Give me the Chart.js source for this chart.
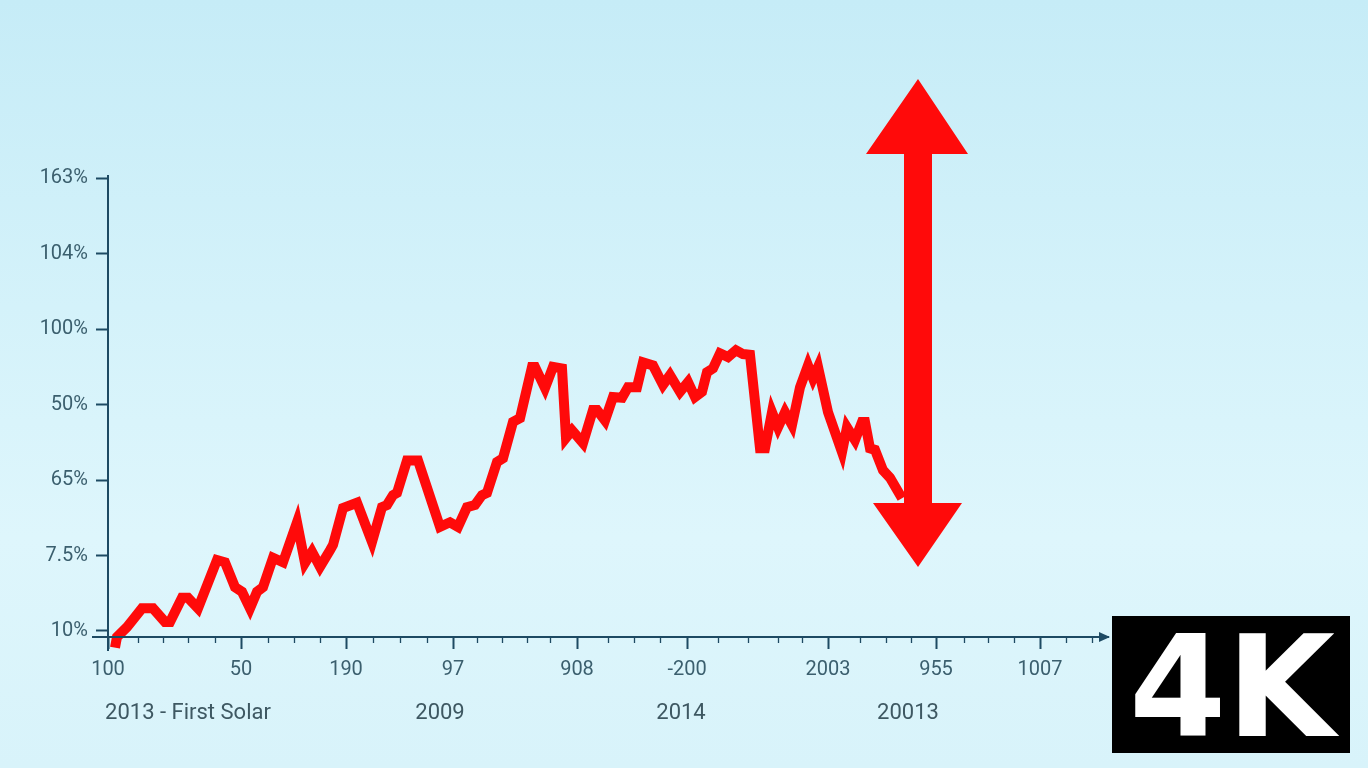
<!DOCTYPE html>
<html>
<head>
<meta charset="utf-8">
<script src="https://cdn.jsdelivr.net/npm/chart.js@4.4.1/dist/chart.umd.min.js"></script>
<style>
html,body{margin:0;padding:0;width:1368px;height:768px;overflow:hidden;}
body{background:linear-gradient(180deg,#c6ecf7 0%,#d4f2fa 40%,#def6fc 70%,#d8f3fa 100%);}
#wrap{position:absolute;left:0;top:0;width:1368px;height:768px;}
</style>
</head>
<body>
<div id="wrap"><canvas id="c" width="1368" height="768"></canvas></div>
<script>
// ---- data ----
const yTickLabels = ["10%", "7.5%", "65%", "50%", "100%", "104%", "163%"];
const yTickValues = [0, 100, 200, 300, 400, 500, 600];
const xTickLabels = ["100", "50", "190", "97", "908", "-200", "2003", "955", "1007"];
const xTickValues = [0, 133, 238, 345, 469, 579, 720, 828, 932];
const xMinorValues = [30, 55, 80, 107, 160, 186, 212, 265, 292, 319, 369, 394, 419, 442, 500, 526, 552, 610, 640, 670, 694, 752, 778, 803, 856, 880, 906, 958, 984];
const periodLabels = ["2013 - First Solar", "2009", "2014", "20013"];
const periodCenters = [80, 332, 573, 800];
const seriesX = [7, 9, 19, 25, 34, 45, 57, 62, 74, 80, 90, 109, 117, 127, 134, 142, 149, 155, 165, 175, 189, 197, 204, 212, 222, 225, 235, 249, 264, 274, 279, 285, 289, 299, 310, 332, 342, 350, 359, 367, 374, 379, 389, 395, 405, 412, 424, 427, 437, 445, 454, 458, 464, 475, 485, 489, 497, 505, 514, 520, 529, 535, 545, 555, 562, 572, 580, 587, 594, 599, 605, 612, 620, 628, 635, 642, 652, 657, 664, 670, 677, 684, 692, 700, 705, 710, 720, 734, 739, 747, 754, 757, 762, 767, 775, 782, 794];
const seriesY = [-22, -8, 5, 15, 30, 30, 12, 12, 44, 44, 30, 94, 91, 58, 52, 30, 52, 58, 97, 91, 144, 90, 105, 85, 107, 114, 163, 170, 118, 164, 167, 180, 183, 226, 226, 138, 144, 138, 164, 167, 180, 183, 224, 229, 277, 282, 350, 350, 322, 350, 348, 256, 266, 249, 293, 293, 279, 310, 309, 323, 323, 356, 352, 326, 339, 317, 330, 310, 317, 343, 348, 368, 363, 372, 367, 366, 242, 242, 290, 270, 290, 273, 323, 352, 335, 350, 290, 237, 270, 253, 277, 277, 242, 240, 213, 203, 176];

const points = seriesX.map((x, i) => ({x: x, y: seriesY[i]}));

const AXIS = '#1d4a63';
const TEXT = '#3b5f6e';

const decor = {
  id: 'decor',
  afterDraw(chart) {
    const ctx = chart.ctx;
    const xs = chart.scales.x, ys = chart.scales.y;
    const ca = chart.chartArea;
    ctx.save();
    // axis extensions
    ctx.strokeStyle = AXIS; ctx.lineWidth = 2;
    ctx.beginPath();
    ctx.moveTo(92, ca.bottom); ctx.lineTo(ca.right, ca.bottom);
    ctx.moveTo(ca.left, ca.bottom); ctx.lineTo(ca.left, ca.bottom + 14);
    ctx.stroke();
    // arrowhead at x-axis end
    ctx.fillStyle = AXIS;
    ctx.beginPath();
    ctx.moveTo(ca.right + 2, ca.bottom);
    ctx.lineTo(ca.right - 9, ca.bottom - 5);
    ctx.lineTo(ca.right - 9, ca.bottom + 5);
    ctx.closePath(); ctx.fill();
    // minor ticks
    ctx.lineWidth = 1.3;
    ctx.beginPath();
    xMinorValues.forEach(v => {
      const px = Math.round(xs.getPixelForValue(v)) + 0.5;
      ctx.moveTo(px, ca.bottom); ctx.lineTo(px, ca.bottom + 6);
    });
    ctx.stroke();
    // period labels
    ctx.fillStyle = '#3e5862';
    ctx.font = '22px Roboto';
    ctx.textAlign = 'center'; ctx.textBaseline = 'alphabetic';
    periodLabels.forEach((t, i) => {
      ctx.fillText(t, xs.getPixelForValue(periodCenters[i]), 719);
    });
    // red double arrow
    ctx.fillStyle = '#ff0a0a';
    const cx = 918;
    ctx.beginPath();
    ctx.moveTo(cx, 79);
    ctx.lineTo(968, 154);
    ctx.lineTo(932, 154);
    ctx.lineTo(932, 503);
    ctx.lineTo(962, 503);
    ctx.lineTo(cx, 567);
    ctx.lineTo(873, 503);
    ctx.lineTo(904, 503);
    ctx.lineTo(904, 154);
    ctx.lineTo(866, 154);
    ctx.closePath(); ctx.fill();
    // 4K badge
    ctx.fillStyle = '#000000';
    ctx.fillRect(1112, 616, 238, 137);
    ctx.fillStyle = '#ffffff';
    ctx.font = 'bold 140px "DejaVu Sans"';
    ctx.textAlign = 'center'; ctx.textBaseline = 'alphabetic';
    ctx.fillText('4K', 1232, 736);
    ctx.restore();
  }
};

new Chart(document.getElementById('c'), {
  type: 'line',
  data: {
    datasets: [{
      data: points,
      borderColor: '#ff0a0a',
      borderWidth: 10,
      pointRadius: 0,
      tension: 0,
      fill: false,
      clip: false,
      borderJoinStyle: 'miter',
      borderCapStyle: 'butt'
    }]
  },
  options: {
    responsive: false,
    animation: false,
    events: [],
    layout: {padding: {left: 0, top: 176, right: 260, bottom: 0}},
    plugins: {legend: {display: false}, tooltip: {enabled: false}},
    scales: {
      x: {
        type: 'linear',
        min: 0, max: 1000,
        afterFit(s) { s.height = 768 - 637; },
        afterBuildTicks(s) { s.ticks = xTickValues.map(v => ({value: v})); },
        ticks: {
          autoSkip: false, maxRotation: 0,
          color: TEXT, font: {family: 'Roboto', size: 20},
          padding: 9,
          callback: (v) => { const i = xTickValues.indexOf(v); return i >= 0 ? xTickLabels[i] : ''; }
        },
        grid: {drawOnChartArea: false, drawTicks: true, tickLength: 12, tickColor: AXIS, tickWidth: 2},
        border: {display: true, color: AXIS, width: 2}
      },
      y: {
        type: 'linear',
        min: -8, max: 603,
        afterFit(s) { s.width = 108; },
        afterBuildTicks(s) { s.ticks = yTickValues.map(v => ({value: v})); },
        ticks: {
          autoSkip: false,
          color: TEXT, font: {family: 'Roboto', size: 20},
          padding: 8,
          callback: (v) => { const i = yTickValues.indexOf(v); return i >= 0 ? yTickLabels[i] : ''; }
        },
        grid: {drawOnChartArea: false, drawTicks: true, tickLength: 12, tickColor: AXIS, tickWidth: 2},
        border: {display: true, color: AXIS, width: 2}
      }
    }
  },
  plugins: [decor]
});
</script>
</body>
</html>
